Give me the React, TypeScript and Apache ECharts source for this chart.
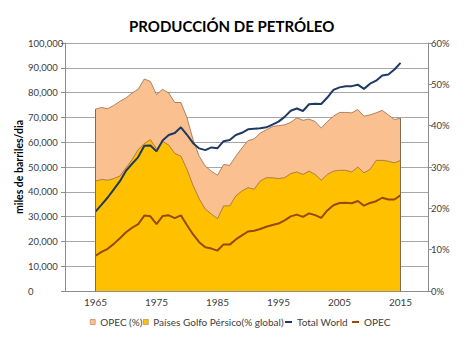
import React, { useEffect, useRef } from "react";
import * as echarts from "echarts";

const years = [
  1965, 1966, 1967, 1968, 1969, 1970, 1971, 1972, 1973, 1974,
  1975, 1976, 1977, 1978, 1979, 1980, 1981, 1982, 1983, 1984,
  1985, 1986, 1987, 1988, 1989, 1990, 1991, 1992, 1993, 1994,
  1995, 1996, 1997, 1998, 1999, 2000, 2001, 2002, 2003, 2004,
  2005, 2006, 2007, 2008, 2009, 2010, 2011, 2012, 2013, 2014, 2015,
];

// % of world production (right axis)
const opecPct = [
  44.0, 44.4, 44.1, 44.9, 45.9, 46.7, 47.9, 48.8, 51.3, 50.7,
  47.5, 48.8, 47.9, 45.6, 45.6, 41.9, 36.6, 32.6, 30.2, 29.0,
  28.0, 30.6, 30.4, 32.6, 34.6, 36.4, 36.8, 38.2, 39.0, 39.8,
  40.0, 40.2, 40.8, 41.9, 41.3, 41.6, 41.0, 39.4, 41.0, 42.3,
  43.2, 43.2, 43.1, 43.9, 42.3, 42.6, 43.1, 43.7, 42.6, 41.5, 41.8,
];

const gulfPct = [
  26.6, 27.0, 26.8, 27.2, 27.8, 29.8, 31.8, 34.2, 35.7, 36.6,
  34.4, 36.2, 35.3, 33.3, 32.6, 29.4, 25.5, 22.3, 19.8, 18.6,
  17.5, 20.6, 20.6, 23.0, 24.2, 25.0, 24.6, 26.6, 27.4, 27.4,
  27.2, 27.4, 28.4, 28.8, 28.2, 29.0, 28.2, 26.8, 28.2, 29.0,
  29.2, 29.2, 28.8, 30.0, 28.6, 29.4, 31.6, 31.6, 31.4, 31.0, 31.6,
];

// thousand barrels per day (left axis)
const totalWorld = [
  32000, 34800, 37700, 41000, 44300, 48500, 51300, 54000, 58600, 58700,
  56300, 60700, 62900, 63700, 66000, 63000, 59600, 57500, 56800, 57900,
  57600, 60400, 60900, 62900, 63800, 65200, 65400, 65600, 66000, 67100,
  68300, 70200, 72700, 73600, 72600, 75300, 75500, 75400, 78000, 81100,
  82100, 82600, 82600, 83200, 81500, 83600, 84800, 86900, 87300, 89300, 92000,
];

const opec = [
  14200, 15800, 17000, 19000, 21300, 23700, 25500, 27000, 30400, 30100,
  27000, 30200, 30500, 29400, 30500, 26500, 22800, 19700, 17600, 17100,
  16300, 18800, 18700, 20800, 22400, 24000, 24300, 25000, 25900, 26600,
  27200, 28500, 30100, 30800, 29900, 31300, 30600, 29500, 32500, 34600,
  35500, 35600, 35400, 36300, 34400, 35500, 36200, 37600, 36900, 36900, 38600,
];

const leftTicks = [0, 10000, 20000, 30000, 40000, 50000, 60000, 70000, 80000, 90000, 100000];
const rightTicks = [0, 10, 20, 30, 40, 50, 60];
const labelYears = [1965, 1975, 1985, 1995, 2005, 2015];

const FONT = "Lato, 'Open Sans', sans-serif";
const C_OPEC_PCT = "#FAC090";
const C_GULF = "#FFC000";
const C_WORLD = "#1F3864";
const C_OPEC = "#984807";
const C_OUTLINE = "#9A6A46";
const C_TEXT = "#404040";

const pairs = (vals: number[]) => years.map((y, i) => [y, vals[i]]);

const legendBase = {
  top: 312,
  icon: "rect",
  textStyle: { fontFamily: FONT, fontSize: 10, color: C_TEXT },
};

export default function App() {
  const ref = useRef<HTMLDivElement>(null);

  useEffect(() => {
    document.body.style.margin = "0";
    if (!ref.current) return;
    const chart = echarts.init(ref.current, null, { renderer: "svg" });
    const last = years.length - 1;
    chart.setOption({
      animation: false,
      backgroundColor: "#ffffff",
      textStyle: { fontFamily: FONT },
      title: {
        text: "PRODUCCIÓN DE PETRÓLEO",
        left: 124,
        top: 13,
        textStyle: { fontFamily: FONT, fontSize: 15, fontWeight: "bold", color: "#000" },
      },
      legend: [
        {
          ...legendBase,
          left: 85,
          itemWidth: 5,
          itemHeight: 5,
          data: [{ name: "OPEC (%)", itemStyle: { color: C_OPEC_PCT, borderColor: C_OUTLINE, borderWidth: 0.5 } }],
        },
        {
          ...legendBase,
          left: 138,
          itemWidth: 5,
          itemHeight: 5,
          data: [
            { name: "Países Golfo Pérsico(% global)", itemStyle: { color: C_GULF, borderColor: C_OUTLINE, borderWidth: 0.5 } },
          ],
        },
        {
          ...legendBase,
          left: 280,
          itemWidth: 7,
          itemHeight: 2,
          data: [{ name: "Total World", itemStyle: { color: C_WORLD } }],
        },
        {
          ...legendBase,
          left: 347,
          itemWidth: 7,
          itemHeight: 2,
          data: [{ name: "OPEC", itemStyle: { color: C_OPEC } }],
        },
      ],
      grid: { left: 65, right: 46, top: 43, bottom: 62, containLabel: false },
      xAxis: {
        type: "value",
        min: 1960,
        max: 2019.5,
        interval: 5,
        axisLine: { show: true, lineStyle: { color: "#8c8c8c", width: 1 } },
        axisTick: { show: false },
        splitLine: { show: false },
        axisLabel: {
          fontFamily: FONT,
          fontSize: 10,
          color: C_TEXT,
          margin: 6,
          formatter: (v: number) => (labelYears.indexOf(v) >= 0 ? String(v) : ""),
        },
      },
      yAxis: [
        {
          type: "value",
          min: leftTicks[0],
          max: leftTicks[leftTicks.length - 1],
          interval: 10000,
          name: "miles de barriles/dia",
          nameLocation: "middle",
          nameGap: 41,
          nameMoveOverlap: false,
          nameTextStyle: { fontFamily: FONT, fontSize: 10.5, fontWeight: "bold", color: "#000" },
          axisLine: { show: true, lineStyle: { color: "#8c8c8c" } },
          axisTick: { show: true, length: 4, lineStyle: { color: "#8c8c8c" } },
          splitLine: { show: true, lineStyle: { color: "#a6a6a6", width: 1 } },
          axisLabel: {
            fontFamily: FONT,
            fontSize: 9.5,
            color: C_TEXT,
            margin: 37,
            align: "left",
            formatter: (v: number) => v.toLocaleString("en-US"),
          },
        },
        {
          type: "value",
          min: rightTicks[0],
          max: rightTicks[rightTicks.length - 1],
          interval: 10,
          position: "right",
          axisLine: { show: true, lineStyle: { color: "#8c8c8c" } },
          axisTick: { show: true, length: 4, lineStyle: { color: "#8c8c8c" } },
          splitLine: { show: false },
          axisLabel: {
            fontFamily: FONT,
            fontSize: 9.5,
            color: C_TEXT,
            margin: 3,
            formatter: "{value}%",
          },
        },
      ],
      series: [
        {
          name: "OPEC (%)",
          type: "line",
          yAxisIndex: 1,
          data: pairs(opecPct),
          symbol: "none",
          color: C_OPEC_PCT,
          lineStyle: { color: C_OUTLINE, width: 0.8 },
          areaStyle: { color: C_OPEC_PCT, opacity: 1 },
          z: 1,
          markLine: {
            silent: true,
            symbol: "none",
            label: { show: false },
            lineStyle: { color: "#7f6a55", width: 1, type: "solid" },
            data: [
              [{ coord: [years[0], 0] }, { coord: [years[0], opecPct[0]] }],
              [{ coord: [years[last], 0] }, { coord: [years[last], opecPct[last]] }],
            ],
          },
        },
        {
          name: "Países Golfo Pérsico(% global)",
          type: "line",
          yAxisIndex: 1,
          data: pairs(gulfPct),
          symbol: "none",
          color: C_GULF,
          lineStyle: { color: C_OUTLINE, width: 0.8 },
          areaStyle: { color: C_GULF, opacity: 1 },
          z: 2,
        },
        {
          name: "Total World",
          type: "line",
          yAxisIndex: 0,
          data: pairs(totalWorld),
          symbol: "none",
          color: C_WORLD,
          lineStyle: { color: C_WORLD, width: 2 },
          z: 3,
        },
        {
          name: "OPEC",
          type: "line",
          yAxisIndex: 0,
          data: pairs(opec),
          symbol: "none",
          color: C_OPEC,
          lineStyle: { color: C_OPEC, width: 2 },
          z: 3,
        },
      ],
    });
    return () => chart.dispose();
  }, []);

  return <div ref={ref} style={{ width: 474, height: 353 }} />;
}
